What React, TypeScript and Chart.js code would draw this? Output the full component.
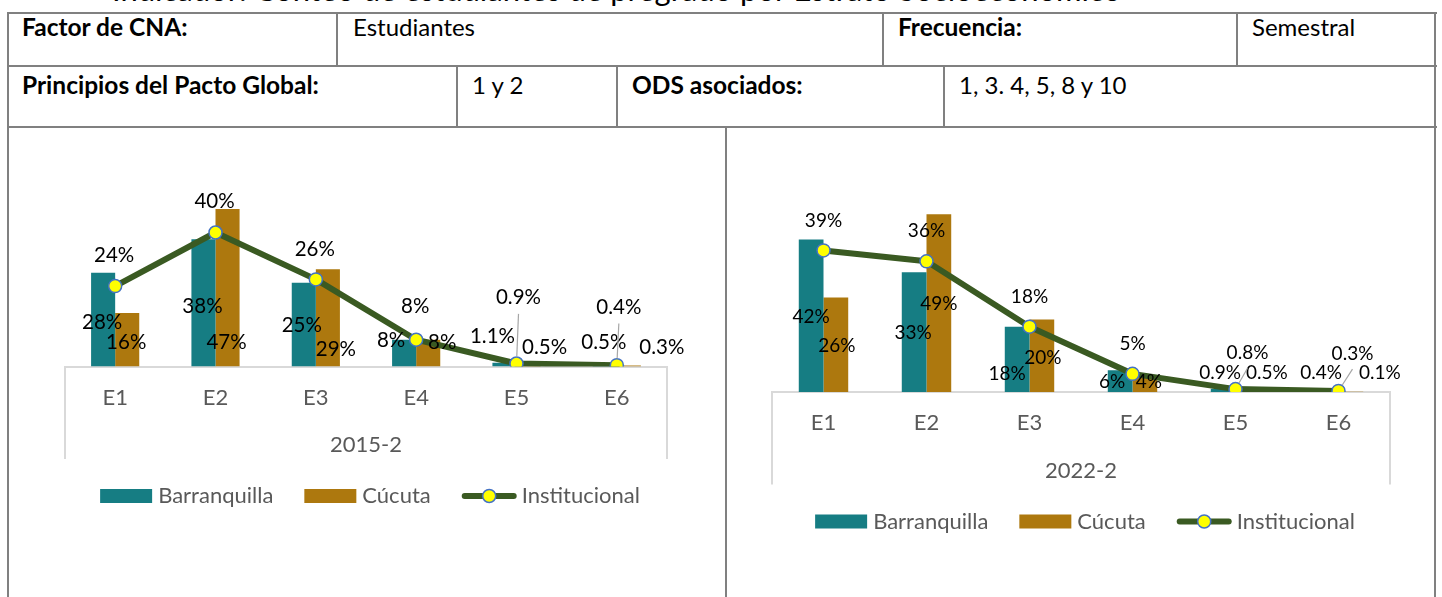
import React, { useEffect, useRef } from 'react';
import { Chart, registerables } from 'chart.js';

Chart.register(...registerables);

const FONT = 'Lato, "Open Sans", sans-serif';

// ---- data ----
const categories = ['E1', 'E2', 'E3', 'E4', 'E5', 'E6'];
const seriesNames = ['Barranquilla', 'Cúcuta', 'Institucional'];

const barranquilla2015 = [28, 38, 25, 8, 1.1, 0.5];
const cucuta2015 = [16, 47, 29, 8, 0.5, 0.3];
const institucional2015 = [24, 40, 26, 8, 0.9, 0.4];

const barranquilla2022 = [42, 33, 18, 6, 0.9, 0.4];
const cucuta2022 = [26, 49, 20, 4, 0.5, 0.1];
const institucional2022 = [39, 36, 18, 5, 0.8, 0.3];

// ---- label placement (offsets from bar base / line point, in px) ----
const barrOffsets2015 = [[-1, -44], [-1, -60], [-2, -41], [-13, -26], [-12, -30], [-1, -24]];
const cucOffsets2015 = [[-1, -24], [-1, -24], [8, -17], [14, -24], [16, -19], [33, -19]];
const instOffsets2015 = [[-1, -31], [-1, -31], [-1, -30], [-1, -33], [2, -66], [2, -58]];
const barrOffsets2022 = [[0, -75], [-1, -59], [-10, -18], [-8, -10], [-3, -19], [-5, -19]];
const cucOffsets2022 = [[1, -46], [0, -88], [1, -34], [4, -10], [19, -19], [29, -19]];
const instOffsets2022 = [[0, -30], [0, -30], [0, -30], [0, -30], [12, -36], [14, -37]];
const leaderFlags = [false, false, false, false, true, true];

const TEAL = '#167d83';
const GOLD = '#ad780e';
const GREEN = '#3a5a22';
const YELLOW = '#ffff00';
const BLUE = '#4472c4';
const GRAY_TEXT = '#595959';
const AXIS = '#d9d9d9';
const AXIS_FONT = 22;

type Spec = {
  b: number[];
  c: number[];
  i: number[];
  period: string;
  offsets: number[][][];
  labelSize: number;
  pad: { left: number; right: number; top: number; bottom: number };
};

function makePlugin(spec: Spec) {
  return {
    id: 'overlay',
    afterDatasetsDraw(chart: any) {
      const ctx = chart.ctx;
      const base = chart.scales.y.getPixelForValue(0);
      ctx.save();
      ctx.font = `${spec.labelSize}px ${FONT}`;
      ctx.fillStyle = '#000000';
      ctx.textAlign = 'center';
      ctx.textBaseline = 'middle';
      chart.data.datasets.forEach((ds: any, di: number) => {
        const meta = chart.getDatasetMeta(di);
        const isBar = meta.type === 'bar';
        meta.data.forEach((el: any, j: number) => {
          const ax = el.x;
          const ay = isBar ? base : el.y;
          const [dx, dy] = spec.offsets[di][j];
          const lx = ax + dx;
          const ly = ay + dy;
          if (!isBar && leaderFlags[j]) {
            const sx = lx;
            const sy = ly + spec.labelSize * 0.8;
            const vx = ax - sx;
            const vy = ay - sy;
            const len = Math.hypot(vx, vy);
            const ex = ax - (vx / len) * 7;
            const ey = ay - (vy / len) * 7;
            ctx.strokeStyle = '#a6a6a6';
            ctx.lineWidth = 1.2;
            ctx.beginPath();
            ctx.moveTo(sx, sy);
            ctx.lineTo(ex, ey);
            ctx.stroke();
          }
          ctx.fillText(`${ds.data[j]}%`, lx, ly);
        });
      });
      ctx.restore();
    },
    afterDraw(chart: any) {
      const ctx = chart.ctx;
      const ca = chart.chartArea;
      ctx.save();
      // category box sides
      ctx.strokeStyle = AXIS;
      ctx.lineWidth = 2;
      ctx.beginPath();
      ctx.moveTo(ca.left, ca.bottom);
      ctx.lineTo(ca.left, ca.bottom + 92.5);
      ctx.moveTo(ca.right, ca.bottom);
      ctx.lineTo(ca.right, ca.bottom + 92.5);
      ctx.stroke();
      // group label
      ctx.font = `${AXIS_FONT}px ${FONT}`;
      ctx.fillStyle = GRAY_TEXT;
      ctx.textAlign = 'center';
      ctx.textBaseline = 'middle';
      ctx.fillText(spec.period, (ca.left + ca.right) / 2, ca.bottom + 78.5);
      // legend
      const ds = chart.data.datasets;
      const gap = 31;
      const widths = ds.map((d: any, k: number) =>
        (k < 2 ? 52 + 6 : 55 + 5) + ctx.measureText(d.label).width
      );
      const total = widths.reduce((a: number, b: number) => a + b, 0) + gap * (ds.length - 1);
      let x = (ca.left + ca.right) / 2 + 4 - total / 2;
      const y = ca.bottom + 129.5;
      ctx.textAlign = 'left';
      ds.forEach((d: any, k: number) => {
        if (k < 2) {
          ctx.fillStyle = d.backgroundColor;
          ctx.fillRect(x, y - 7, 52, 14);
          ctx.fillStyle = GRAY_TEXT;
          ctx.fillText(d.label, x + 58, y);
        } else {
          ctx.strokeStyle = GREEN;
          ctx.lineWidth = 6;
          ctx.lineCap = 'round';
          ctx.beginPath();
          ctx.moveTo(x + 3, y);
          ctx.lineTo(x + 52, y);
          ctx.stroke();
          ctx.beginPath();
          ctx.arc(x + 27.5, y, 6.5, 0, Math.PI * 2);
          ctx.fillStyle = YELLOW;
          ctx.fill();
          ctx.strokeStyle = BLUE;
          ctx.lineWidth = 1.5;
          ctx.stroke();
          ctx.fillStyle = GRAY_TEXT;
          ctx.fillText(d.label, x + 60, y);
        }
        x += widths[k] + gap;
      });
      ctx.restore();
    },
  };
}

function ComboChart({ spec, left, top, width, height }: { spec: Spec; left: number; top: number; width: number; height: number }) {
  const ref = useRef<HTMLCanvasElement | null>(null);
  useEffect(() => {
    if (!ref.current) return;
    const chart = new Chart(ref.current, {
      type: 'bar',
      data: {
        labels: categories,
        datasets: [
          {
            type: 'bar',
            label: seriesNames[0],
            data: spec.b,
            backgroundColor: TEAL,
            barPercentage: 1,
            categoryPercentage: 0.48,
            order: 2,
          },
          {
            type: 'bar',
            label: seriesNames[1],
            data: spec.c,
            backgroundColor: GOLD,
            barPercentage: 1,
            categoryPercentage: 0.48,
            order: 2,
          },
          {
            type: 'line',
            label: seriesNames[2],
            data: spec.i,
            borderColor: GREEN,
            borderWidth: 6,
            borderJoinStyle: 'round',
            borderCapStyle: 'round',
            pointRadius: 6.5,
            pointBackgroundColor: YELLOW,
            pointBorderColor: BLUE,
            pointBorderWidth: 1.5,
            tension: 0,
            order: 0,
          },
        ] as any,
      },
      options: {
        animation: false,
        responsive: false,
        devicePixelRatio: 1,
        layout: { padding: spec.pad },
        plugins: { legend: { display: false }, tooltip: { enabled: false }, title: { display: false } },
        scales: {
          x: {
            grid: { display: false, drawTicks: false },
            border: { display: true, color: AXIS, width: 2 },
            ticks: { color: GRAY_TEXT, font: { family: FONT, size: AXIS_FONT }, padding: 18 },
            afterFit: (scale: any) => {
              scale.height = 60;
            },
          },
          y: { display: false, min: 0, max: 50 },
        },
      } as any,
      plugins: [makePlugin(spec)],
    });
    return () => chart.destroy();
  }, [spec]);
  return (
    <canvas
      ref={ref}
      width={width}
      height={height}
      style={{ position: 'absolute', left, top, width, height }}
    />
  );
}

const spec2015: Spec = {
  b: barranquilla2015,
  c: cucuta2015,
  i: institucional2015,
  period: '2015-2',
  offsets: [barrOffsets2015, cucOffsets2015, instOffsets2015],
  labelSize: 20.5,
  pad: { left: 56, right: 58, top: 70, bottom: 168.5 },
};

const spec2022: Spec = {
  b: barranquilla2022,
  c: cucuta2022,
  i: institucional2022,
  period: '2022-2',
  offsets: [barrOffsets2022, cucOffsets2022, instOffsets2022],
  labelSize: 19,
  pad: { left: 44, right: 43, top: 81.5, bottom: 143 },
};

const LINE = '#808080';

function HLine({ x1, x2, y }: { x1: number; x2: number; y: number }) {
  return <div style={{ position: 'absolute', left: x1, top: y - 1, width: x2 - x1, height: 2, background: LINE }} />;
}
function VLine({ x, y1, y2 }: { x: number; y1: number; y2: number }) {
  return <div style={{ position: 'absolute', left: x - 1, top: y1, width: 2, height: y2 - y1, background: LINE }} />;
}
function Cell({ x, y, bold, children }: { x: number; y: number; bold?: boolean; children: React.ReactNode }) {
  return (
    <div
      style={{
        position: 'absolute',
        left: x,
        top: bold ? y - 0.5 : y,
        fontFamily: FONT,
        fontSize: bold ? 24.5 : 24,
        lineHeight: '29px',
        fontWeight: bold ? 700 : 400,
        color: '#000',
        whiteSpace: 'nowrap',
      }}
    >
      {children}
    </div>
  );
}

export default function App() {
  return (
    <div style={{ position: 'absolute', left: 0, top: 0, width: 1442, height: 597, overflow: 'hidden', background: '#fff' }}>
      <div
        style={{
          position: 'absolute',
          left: 112,
          top: -29.5,
          fontFamily: FONT,
          fontSize: 31,
          lineHeight: '37px',
          whiteSpace: 'nowrap',
          color: '#000',
        }}
      >
        Indicador: Conteo de estudiantes de pregrado por Estrato Socioeconómico
      </div>
      <HLine x1={7} x2={1437} y={13} />
      <HLine x1={7} x2={1437} y={66} />
      <HLine x1={7} x2={1437} y={127} />
      <VLine x={8} y1={12} y2={597} />
      <VLine x={1435} y1={12} y2={597} />
      <VLine x={337} y1={13} y2={66} />
      <VLine x={883} y1={13} y2={66} />
      <VLine x={1237} y1={13} y2={66} />
      <VLine x={457} y1={66} y2={127} />
      <VLine x={617} y1={66} y2={127} />
      <VLine x={944} y1={66} y2={127} />
      <VLine x={726} y1={127} y2={597} />
      <Cell x={22} y={12} bold>Factor de CNA:</Cell>
      <Cell x={353} y={12}>Estudiantes</Cell>
      <Cell x={898} y={12} bold>Frecuencia:</Cell>
      <Cell x={1252} y={12}>Semestral</Cell>
      <Cell x={22} y={70} bold>Principios del Pacto Global:</Cell>
      <Cell x={472} y={70}>1 y 2</Cell>
      <Cell x={632} y={70} bold>ODS asociados:</Cell>
      <Cell x={959} y={70}>1, 3. 4, 5, 8 y 10</Cell>
      <ComboChart spec={spec2015} left={9} top={129} width={716} height={466} />
      <ComboChart spec={spec2022} left={728} top={129} width={705} height={466} />
    </div>
  );
}
